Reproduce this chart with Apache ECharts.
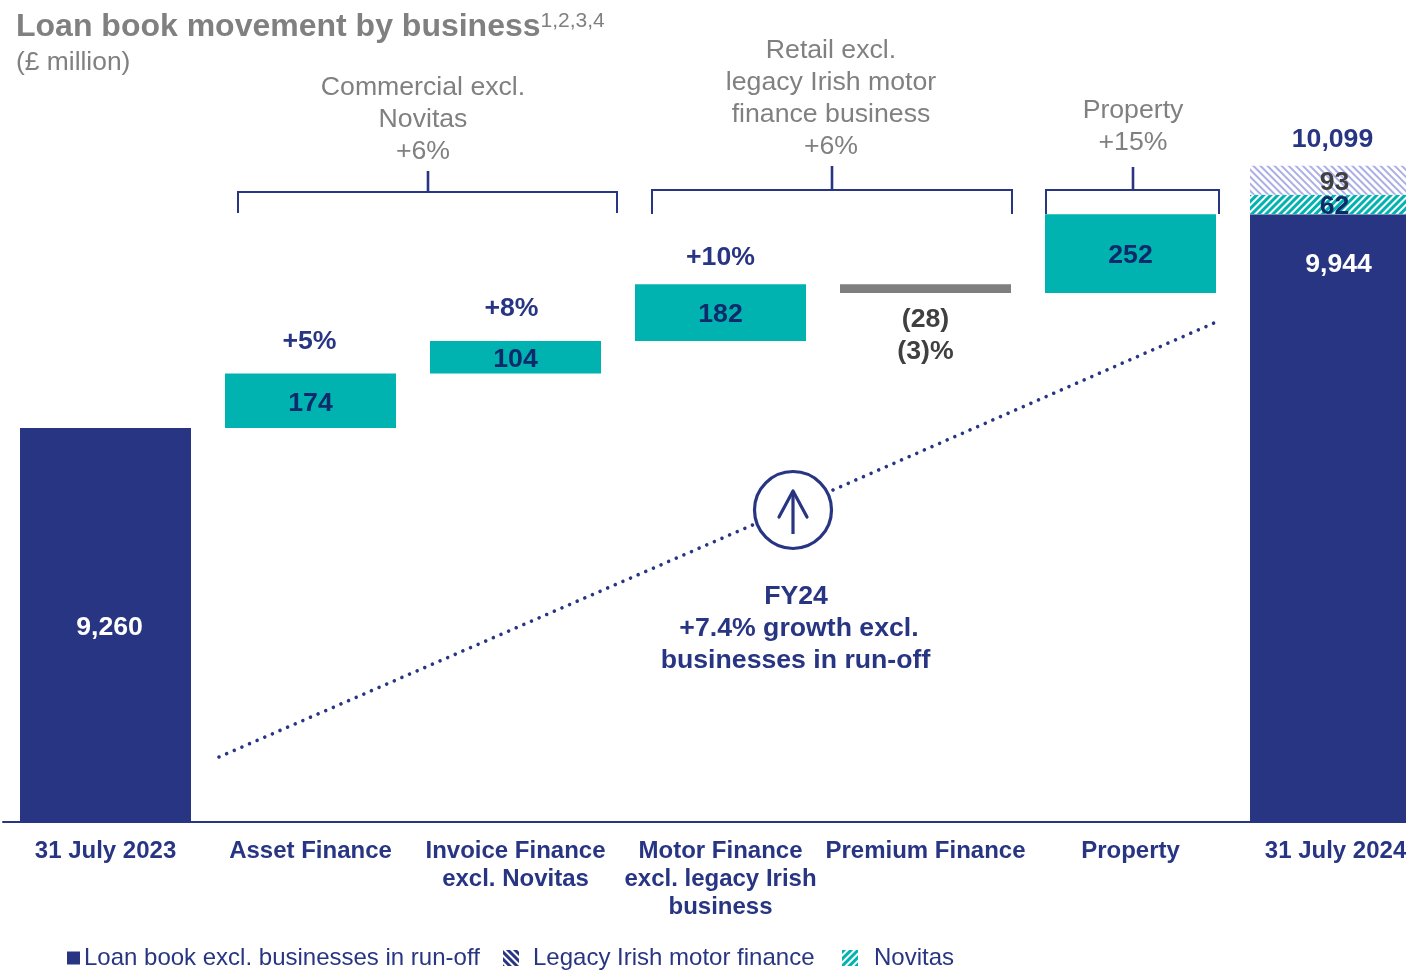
<!DOCTYPE html>
<html><head><meta charset="utf-8">
<style>html,body{margin:0;padding:0;background:#fff;overflow:hidden}#c{width:1406px;height:970px}</style>
<script src="https://cdn.jsdelivr.net/npm/echarts@6/dist/echarts.min.js"></script>
</head><body><div id="c"></div>
<script>
const categories = ['31 July 2023','Asset Finance','Invoice Finance\nexcl. Novitas','Motor Finance\nexcl. legacy Irish\nbusiness','Premium Finance','Property','31 July 2024'];
const opening = 9260;
const movements = [174,104,182,-28,252];
const closingCore = 9944;
const novitas = 62;
const legacyIrish = 93;
const closingTotal = 10099;
const movementPct = ['+5%','+8%','+10%','(3)%',null];

const NAVY='#283583', TEAL='#00B3B0', GREY='#7F7F7F', DARK='#0F2A6B', TXT='#808080';
const FONT='"Liberation Sans", Arial, sans-serif';
const VSIZE=26.67;

let run=opening;
const spacer=[null], moveVals=[null], tops=[opening];
movements.forEach(m=>{
  const low=m>=0?run:run+m;
  spacer.push(low); moveVals.push(Math.abs(m)); tops.push(low+Math.abs(m)); run+=m;
});
spacer.push(null); moveVals.push(null); tops.push(closingTotal);
const core=[opening,null,null,null,null,null,closingCore];
const nov=[null,null,null,null,null,null,novitas];
const leg=[null,null,null,null,null,null,legacyIrish];
const fmt=v=>v.toLocaleString('en-GB');

const chart=echarts.init(document.getElementById('c'));
const lineStyle={stroke:NAVY,lineWidth:2,fill:null};
const stemStyle={stroke:NAVY,lineWidth:2.6};
function bracket(x1,x2,y,yd,xs,ys){return [
 {type:'polyline',shape:{points:[[x1,yd],[x1,y],[x2,y],[x2,yd]]},style:lineStyle},
 {type:'line',shape:{x1:xs,y1:ys,x2:xs,y2:y},style:stemStyle}];}
function txt(s,x,y,size,color,weight,lh){return {type:'text',x:x,y:y,style:{text:s,fill:color,font:(weight||'normal')+' '+size+'px '+FONT,lineHeight:lh||32,textAlign:'center',textVerticalAlign:'middle'}};}
const dots={stroke:NAVY,lineWidth:3.6,lineDash:[0.01,8.3],lineCap:'round'};
const G=[].concat(
 bracket(238,617,192,213,428,171),
 bracket(652,1012,190,214,832,166),
 bracket(1046,1219,190,214,1133,167),
 [
 {type:'line',shape:{x1:219,y1:757,x2:758,y2:522.6},style:dots},
 {type:'line',shape:{x1:833,y1:490,x2:1214,y2:323},style:dots},
 {type:'circle',shape:{cx:793,cy:510,r:38.5},style:{stroke:NAVY,lineWidth:3.2,fill:'#fff'}},
 {type:'polyline',shape:{points:[[779,517],[793,491],[807,517]]},style:{stroke:NAVY,lineWidth:3.2,fill:null,lineCap:'round',lineJoin:'round'}},
 {type:'line',shape:{x1:793,y1:491,x2:793,y2:534},style:{stroke:NAVY,lineWidth:3.2}},
 txt('Commercial excl.\nNovitas\n+6%',423,120,VSIZE,TXT),
 txt('Retail excl.\nlegacy Irish motor\nfinance business\n+6%',831,99,VSIZE,TXT),
 txt('Property\n+15%',1133,127,VSIZE,TXT),
 txt('FY24',796,597,VSIZE,NAVY,'bold'),
 txt('+7.4% growth excl.',799,629,VSIZE,NAVY,'bold'),
 txt('businesses in run-off',795.5,661,VSIZE,NAVY,'bold')
 ]);
const pctX=[-1,-4,0,0,0], pctDist=[16,16,11,11,0];

chart.setOption({
 animation:false,
 title:[{text:'Loan book movement by business{sup|1,2,3,4}',left:16,top:11,padding:0,
   textStyle:{color:TXT,fontFamily:FONT,fontWeight:'bold',fontSize:32,rich:{sup:{fontFamily:FONT,fontWeight:'normal',fontSize:21,color:TXT,verticalAlign:'top',padding:[0,0,8,0]}}}},
  {text:'(£ million)',left:16,top:50,padding:0,textStyle:{color:TXT,fontFamily:FONT,fontWeight:'normal',fontSize:26.4}}],
 grid:{left:3,top:9,width:1435,bottom:148,containLabel:false,outerBoundsMode:'none'},
 xAxis:{type:'category',data:categories,axisTick:{show:false},
   axisLine:{lineStyle:{color:NAVY,width:2}},
   axisLabel:{interval:0,margin:15,color:NAVY,fontFamily:FONT,fontWeight:'bold',fontSize:24,lineHeight:28,hideOverlap:false}},
 yAxis:{type:'value',min:8000,max:10600,show:false,splitLine:{show:false}},
 legend:[
  {data:[{name:'Loan book excl. businesses in run-off',icon:'rect'}],left:67,top:946,itemWidth:13,itemHeight:13,padding:0,textStyle:{color:NAVY,fontFamily:FONT,fontSize:24,padding:[0,0,0,-1]},selectedMode:false},
  {data:[{name:'Legacy Irish motor finance',icon:'rect',itemStyle:{color:'#fff',decal:{color:NAVY,symbol:'rect',dashArrayX:[[1,0]],dashArrayY:[3,2],rotation:Math.PI/4}}}],left:503,top:946,itemWidth:16,itemHeight:16,padding:0,textStyle:{color:NAVY,fontFamily:FONT,fontSize:24,padding:[0,0,0,9]},selectedMode:false},
  {data:[{name:'Novitas',icon:'rect',itemStyle:{color:'#fff',decal:{color:TEAL,symbol:'rect',dashArrayX:[[1,0]],dashArrayY:[3,2],rotation:-Math.PI/4}}}],left:842,top:946,itemWidth:16,itemHeight:16,padding:0,textStyle:{color:NAVY,fontFamily:FONT,fontSize:24,padding:[0,0,0,11]},selectedMode:false}
 ],
 series:[
  {type:'bar',name:'spacer',stack:'w',barWidth:171,data:spacer,itemStyle:{color:'transparent'},silent:true},
  {type:'bar',name:'Loan book excl. businesses in run-off',stack:'w',barWidth:171,data:core.map((v,i)=>({value:v,label:i===0?{position:'inside',offset:[4,2.5]}:{position:'insideTop',distance:35,offset:[3,2.5]}})),
    itemStyle:{color:NAVY},label:{show:true,color:'#fff',fontFamily:FONT,fontWeight:'bold',fontSize:VSIZE,formatter:p=>fmt(p.value)}},
  {type:'bar',name:'movement',stack:'w',barWidth:171,
    data:moveVals.map((v,i)=>({value:v,itemStyle:{color:(movements[i-1]<0)?GREY:TEAL},label:{show:movements[i-1]>=0}})),
    label:{show:true,position:'inside',offset:[0,2.5],color:DARK,fontFamily:FONT,fontWeight:'bold',fontSize:VSIZE}},
  {type:'bar',name:'Novitas',stack:'w',barWidth:171,data:nov,
    itemStyle:{color:'#fff',decal:{color:TEAL,symbol:'rect',dashArrayX:[[1,0]],dashArrayY:[3,2],rotation:-Math.PI/4}},
    label:{show:true,position:'inside',offset:[-1,2.5],color:DARK,fontFamily:FONT,fontWeight:'bold',fontSize:VSIZE}},
  {type:'bar',name:'Legacy Irish motor finance',stack:'w',barWidth:171,data:leg,
    itemStyle:{color:'#fff',decal:{color:'#ABAFE6',symbol:'rect',dashArrayX:[[1,0]],dashArrayY:[2,3],rotation:Math.PI/4}},
    label:{show:true,position:'inside',offset:[-1,2.5],color:'#404040',fontFamily:FONT,fontWeight:'bold',fontSize:VSIZE}},
  {type:'scatter',name:'notes',symbolSize:0,silent:true,itemStyle:{opacity:1},
    data:tops.map((t,i)=>{
      if(i===6) return {value:[categories[i],t],label:{show:true,formatter:fmt(closingTotal),position:'top',distance:10,offset:[-3,0]}};
      const k=i-1;
      if(i===0||!movementPct[k]) return null;
      const neg=movements[k]<0;
      return {value:[categories[i],neg?t+movements[k]:t],label:{show:true,position:neg?'bottom':'top',distance:pctDist[k],offset:[pctX[k],0],
        formatter:neg?'('+Math.abs(movements[k])+')\n'+movementPct[k]:movementPct[k],color:neg?'#404040':NAVY}};
    }).filter(Boolean),
    label:{show:true,opacity:1,color:NAVY,fontFamily:FONT,fontWeight:'bold',fontSize:VSIZE,lineHeight:32}}
 ],
 graphic:{elements:G}
});
</script></body></html>
